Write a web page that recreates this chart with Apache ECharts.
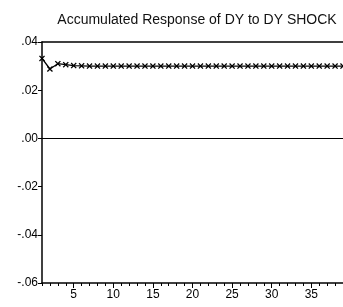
<!DOCTYPE html>
<html>
<head>
<meta charset="utf-8">
<script src="https://cdn.jsdelivr.net/npm/echarts@6/dist/echarts.min.js"></script>
<style>
html, body { margin: 0; padding: 0; background: #fff; }
#main { width: 343px; height: 307px; }
</style>
</head>
<body>
<div id="main"></div>
<script>
var chartDom = document.getElementById('main');
var myChart = echarts.init(chartDom);
var option;

// periods and accumulated response
let periods = [1,2,3,4,5,6,7,8,9,10,11,12,13,14,15,16,17,18,19,20,21,22,23,24,25,26,27,28,29,30,31,32,33,34,35,36,37,38,39,40];
let response = [0.0332,0.0288,0.0310,0.0306,0.0302,0.0301,0.0300,0.0300,0.0300,0.0300,0.0300,0.0300,0.0300,0.0300,0.0300,0.0300,0.0300,0.0300,0.0300,0.0300,0.0300,0.0300,0.0300,0.0300,0.0300,0.0300,0.0300,0.0300,0.0300,0.0300,0.0300,0.0300,0.0300,0.0300,0.0300,0.0300,0.0300,0.0300,0.0300,0.0300];
let xLabels = [5,10,15,20,25,30,35];
let yTicks = [-0.06,-0.04,-0.02,0.00,0.02,0.04];

let xMin = 1, xMax = 39;
let points = [];
for (let i = 0; i < periods.length; i++) {
  points.push([periods[i], response[i]]);
}
let minorTicks = [];
for (let i = xMin; i <= xMax; i++) minorTicks.push(i);

function fmt(v) {
  let s = Number(v).toFixed(2);
  return s.replace(/^(-?)0\./, '$1.');
}

var crossMark = 'path://M0,1.5L1.5,0L5,3.5L8.5,0L10,1.5L6.5,5L10,8.5L8.5,10L5,6.5L1.5,10L0,8.5L3.5,5Z';

option = {
  animation: false,
  textStyle: { fontFamily: 'Liberation Sans' },
  title: {
    text: 'Accumulated Response of DY to DY SHOCK',
    left: 192,
    textAlign: 'center',
    top: 8,
    textStyle: { fontSize: 14, fontWeight: 'normal', color: '#111' }
  },
  grid: { left: 42, right: 0, top: 42, bottom: 24 },
  xAxis: [
    {
      type: 'value', min: xMin, max: xMax,
      axisLine: { onZero: false, lineStyle: { color: '#000', width: 1.5 } },
      axisTick: { customValues: minorTicks, length: 3, lineStyle: { color: '#000' } },
      axisLabel: { customValues: xLabels, color: '#000', fontSize: 12, margin: 6 },
      splitLine: { show: false }
    },
    {
      type: 'value', min: xMin, max: xMax, position: 'bottom',
      axisLine: { show: false, onZero: false },
      axisTick: { customValues: xLabels, length: 5, lineStyle: { color: '#000' } },
      axisLabel: { show: false },
      splitLine: { show: false }
    },
    {
      type: 'value', min: xMin, max: xMax, position: 'top',
      axisLine: { onZero: false, lineStyle: { color: '#000', width: 1.5 } },
      axisTick: { show: false },
      axisLabel: { show: false },
      splitLine: { show: false }
    }
  ],
  yAxis: {
    type: 'value', min: -0.06, max: 0.04, interval: 0.02,
    axisLine: { show: true, onZero: false, lineStyle: { color: '#000', width: 1.5 } },
    axisTick: { show: true, customValues: yTicks, length: 4, lineStyle: { color: '#000' } },
    axisLabel: { customValues: yTicks, color: '#000', fontSize: 12, margin: 4, formatter: fmt },
    splitLine: { show: false }
  },
  series: [
    {
      type: 'line',
      data: points,
      symbol: crossMark,
      symbolSize: 6,
      showAllSymbol: true,
      clip: true,
      itemStyle: { color: '#000' },
      lineStyle: { color: '#000', width: 1.3 },
      markLine: {
        silent: true,
        symbol: 'none',
        label: { show: false },
        lineStyle: { color: '#000', width: 1, type: 'solid' },
        data: [{ yAxis: 0 }]
      }
    }
  ]
};

option && myChart.setOption(option);
</script>
</body>
</html>
